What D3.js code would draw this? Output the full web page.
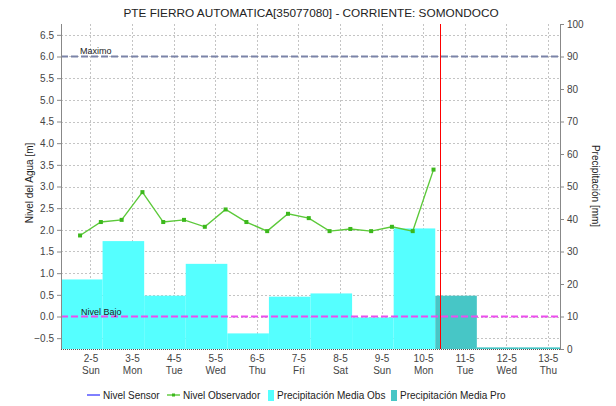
<!DOCTYPE html>
<html>
<head>
<meta charset="utf-8">
<script src="https://cdn.jsdelivr.net/npm/d3@7"></script>
<style>
  html, body { margin: 0; padding: 0; background: #fff; }
  svg { display: block; font-family: "Liberation Sans", Arial, sans-serif; }
</style>
</head>
<body>
<svg id="chart" width="616" height="406"></svg>
<script>
// Station and series
const chartTitle = "PTE FIERRO AUTOMATICA[35077080] - CORRIENTE: SOMONDOCO";

// Daily precipitation, each bar covers one hydrological day (07:00 to 07:00)
const obsPrecipStart = ["2021-05-01", "2021-05-02", "2021-05-03", "2021-05-04", "2021-05-05",
                        "2021-05-06", "2021-05-07", "2021-05-08", "2021-05-09"];
const obsPrecip = [21.4, 33.2, 16.4, 26.2, 4.8, 16.1, 17.1, 9.7, 37.1];
const proPrecipStart = ["2021-05-10", "2021-05-11", "2021-05-12"];
const proPrecip = [16.4, 0.5, 0.5];

// Observer readings (06:00 and 18:00)
const obsTimes = ["2021-05-01T18:00", "2021-05-02T06:00", "2021-05-02T18:00", "2021-05-03T06:00",
                  "2021-05-03T18:00", "2021-05-04T06:00", "2021-05-04T18:00", "2021-05-05T06:00",
                  "2021-05-05T18:00", "2021-05-06T06:00", "2021-05-06T18:00", "2021-05-07T06:00",
                  "2021-05-07T18:00", "2021-05-08T06:00", "2021-05-08T18:00", "2021-05-09T06:00",
                  "2021-05-09T18:00", "2021-05-10T06:00"];
const obsLevel = [1.87, 2.18, 2.23, 2.87, 2.18, 2.23, 2.07, 2.47, 2.18, 1.97,
                  2.37, 2.27, 1.97, 2.02, 1.97, 2.07, 1.97, 3.39];
const sensorTimes = [];
const sensorLevel = [];

// Reference levels
const maxLevel = 6.0;
const lowLevel = 0.0;
const nowTime = "2021-05-10T09:45";

// Axis ticks
const dayTicks = ["2021-05-02", "2021-05-03", "2021-05-04", "2021-05-05", "2021-05-06", "2021-05-07",
                  "2021-05-08", "2021-05-09", "2021-05-10", "2021-05-11", "2021-05-12", "2021-05-13"];
const weekdayNames = ["Sun", "Mon", "Tue", "Wed", "Thu", "Fri", "Sat"];
const levelTicks = [-0.5, 0, 0.5, 1, 1.5, 2, 2.5, 3, 3.5, 4, 4.5, 5, 5.5, 6, 6.5];
const precipTicks = [0, 10, 20, 30, 40, 50, 60, 70, 80, 90, 100];
const legendItems = ["Nivel Sensor", "Nivel Observador", "Precipitación Media Obs", "Precipitación Media Pro"];

const parseT = d3.utcParse("%Y-%m-%dT%H:%M");
const parseD = d3.utcParse("%Y-%m-%d");
const at7 = s => d3.utcHour.offset(parseD(s), 7);

const plot = { left: 61, right: 560, top: 24, bottom: 349 };
const svg = d3.select("#chart");

const x = d3.scaleUtc()
  .domain([at7("2021-05-01"), at7("2021-05-13")])
  .range([plot.left, plot.right]);
const yL = d3.scaleLinear().domain([-0.75, 6.75]).range([plot.bottom, plot.top]);
const yR = d3.scaleLinear().domain([0, 100]).range([plot.bottom, plot.top]);

const gridColor = "#c4c4c4";
const textColor = "#444";

// Title
svg.append("text")
  .attr("x", 311).attr("y", 17)
  .attr("text-anchor", "middle")
  .attr("font-size", 11.8).attr("fill", "#222")
  .text(chartTitle);

// Grid
const grid = svg.append("g");
grid.selectAll("line.h").data(levelTicks).join("line")
  .attr("x1", plot.left).attr("x2", plot.right)
  .attr("y1", d => Math.round(yL(d)) + 0.5).attr("y2", d => Math.round(yL(d)) + 0.5)
  .attr("stroke", gridColor).attr("stroke-dasharray", "2,2");
grid.selectAll("line.v").data(dayTicks.map(parseD)).join("line")
  .attr("x1", d => Math.round(x(d)) + 0.5).attr("x2", d => Math.round(x(d)) + 0.5)
  .attr("y1", plot.top).attr("y2", plot.bottom)
  .attr("stroke", gridColor).attr("stroke-dasharray", "2,2");

// Precipitation bars (right axis)
function drawBars(starts, vals, color) {
  svg.append("g").selectAll("rect").data(starts.map((s, i) => ({ t0: at7(s), v: vals[i] }))).join("rect")
    .attr("x", d => x(d.t0))
    .attr("width", d => x(d3.utcDay.offset(d.t0, 1)) - x(d.t0))
    .attr("y", d => yR(d.v))
    .attr("height", d => yR(0) - yR(d.v))
    .attr("fill", color);
}
drawBars(obsPrecipStart, obsPrecip, "#55ffff");
drawBars(proPrecipStart, proPrecip, "#47c6c6");

// Reference lines
svg.append("line")
  .attr("x1", plot.left).attr("x2", plot.right)
  .attr("y1", yL(maxLevel)).attr("y2", yL(maxLevel))
  .attr("stroke", "#7b83a8").attr("stroke-width", 2).attr("stroke-dasharray", "7,3");
svg.append("text").attr("x", 80).attr("y", yL(maxLevel) - 3)
  .attr("font-size", 9).attr("fill", "#222").text("Maximo");
svg.append("line")
  .attr("x1", plot.left).attr("x2", plot.right)
  .attr("y1", yL(lowLevel)).attr("y2", yL(lowLevel))
  .attr("stroke", "#ee4cee").attr("stroke-width", 2).attr("stroke-dasharray", "7,3");
svg.append("text").attr("x", 81).attr("y", yL(lowLevel) - 2)
  .attr("font-size", 9).attr("fill", "#222").text("Nivel Bajo");

// Current time marker
svg.append("line")
  .attr("x1", Math.round(x(parseT(nowTime))) + 0.5).attr("x2", Math.round(x(parseT(nowTime))) + 0.5)
  .attr("y1", plot.top).attr("y2", plot.bottom)
  .attr("stroke", "#ff0000").attr("stroke-width", 1);

// Sensor level (no readings in this period)
const lineGen = d3.line().x(d => x(d.t)).y(d => yL(d.v));
svg.append("path")
  .datum(sensorTimes.map((t, i) => ({ t: parseT(t), v: sensorLevel[i] })))
  .attr("fill", "none").attr("stroke", "#0000ff").attr("d", lineGen);

// Observer level
const obsData = obsTimes.map((t, i) => ({ t: parseT(t), v: obsLevel[i] }));
svg.append("path").datum(obsData)
  .attr("fill", "none").attr("stroke", "#5cc93a").attr("stroke-width", 1.4)
  .attr("d", lineGen);
svg.append("g").selectAll("rect").data(obsData).join("rect")
  .attr("x", d => x(d.t) - 2).attr("y", d => yL(d.v) - 2)
  .attr("width", 4).attr("height", 4)
  .attr("fill", "#3cb81c");

// Left axis
const axL = svg.append("g").attr("transform", `translate(${plot.left},0)`)
  .call(d3.axisLeft(yL).tickValues(levelTicks).tickFormat(d3.format(".1f")).tickSize(4).tickPadding(3));
axL.select(".domain").attr("d", `M0.5,${plot.top}V${plot.bottom}`);
// Right axis
const axR = svg.append("g").attr("transform", `translate(${plot.right},0)`)
  .call(d3.axisRight(yR).tickValues(precipTicks).tickSize(4).tickPadding(3));
axR.select(".domain").attr("d", `M0.5,${plot.top}V${plot.bottom}`);
[axL, axR].forEach(a => {
  a.selectAll(".domain, .tick line").attr("stroke", "#888");
  a.selectAll("text").attr("fill", textColor).attr("font-size", 10)
    .attr("font-family", "Liberation Sans, Arial, sans-serif");
});

// Bottom axis: date and weekday
const axB = svg.append("g").attr("transform", `translate(0,${plot.bottom})`)
  .call(d3.axisBottom(x).tickValues(dayTicks.map(parseD)).tickSize(0).tickFormat(""));
axB.select(".domain").attr("d", `M${plot.left},0.5H${plot.right}`)
  .attr("stroke", "#555").attr("stroke-dasharray", "1,1");
axB.selectAll(".tick").each(function (d) {
  const g = d3.select(this);
  g.append("text").attr("y", 13).attr("text-anchor", "middle")
    .attr("fill", textColor).attr("font-size", 10)
    .text(`${d.getUTCDate()}-${d.getUTCMonth() + 1}`);
  g.append("text").attr("y", 25).attr("text-anchor", "middle")
    .attr("fill", textColor).attr("font-size", 10)
    .text(weekdayNames[d.getUTCDay()]);
});

// Axis titles
svg.append("text")
  .attr("transform", "translate(33,183) rotate(-90)")
  .attr("text-anchor", "middle").attr("font-size", 10).attr("fill", "#222")
  .text("Nivel del Agua [m]");
svg.append("text")
  .attr("transform", "translate(592,186) rotate(90)")
  .attr("text-anchor", "middle").attr("font-size", 10).attr("fill", "#222")
  .text("Precipitación [mm]");

// Legend
const lg = svg.append("g").attr("font-size", 10).attr("fill", "#222");
const ly = 395;
const lx = [87, 167, 268, 391];
// Nivel Sensor
lg.append("line").attr("x1", lx[0]).attr("x2", lx[0] + 13).attr("y1", ly).attr("y2", ly).attr("stroke", "#0000ff");
lg.append("text").attr("x", lx[0] + 16).attr("y", ly + 4).text(legendItems[0]);
// Nivel Observador
lg.append("line").attr("x1", lx[1]).attr("x2", lx[1] + 13).attr("y1", ly).attr("y2", ly).attr("stroke", "#5cc93a").attr("stroke-width", 1.4);
lg.append("rect").attr("x", lx[1] + 5).attr("y", ly - 1.5).attr("width", 3).attr("height", 3).attr("fill", "#3cb81c");
lg.append("text").attr("x", lx[1] + 16).attr("y", ly + 4).text(legendItems[1]);
// Precipitation swatches
lg.append("rect").attr("x", lx[2]).attr("y", ly - 5).attr("width", 6).attr("height", 11).attr("fill", "#55ffff");
lg.append("text").attr("x", lx[2] + 9).attr("y", ly + 4).text(legendItems[2]);
lg.append("rect").attr("x", lx[3]).attr("y", ly - 5).attr("width", 6).attr("height", 11).attr("fill", "#47c6c6");
lg.append("text").attr("x", lx[3] + 9).attr("y", ly + 4).text(legendItems[3]);
</script>
</body>
</html>
